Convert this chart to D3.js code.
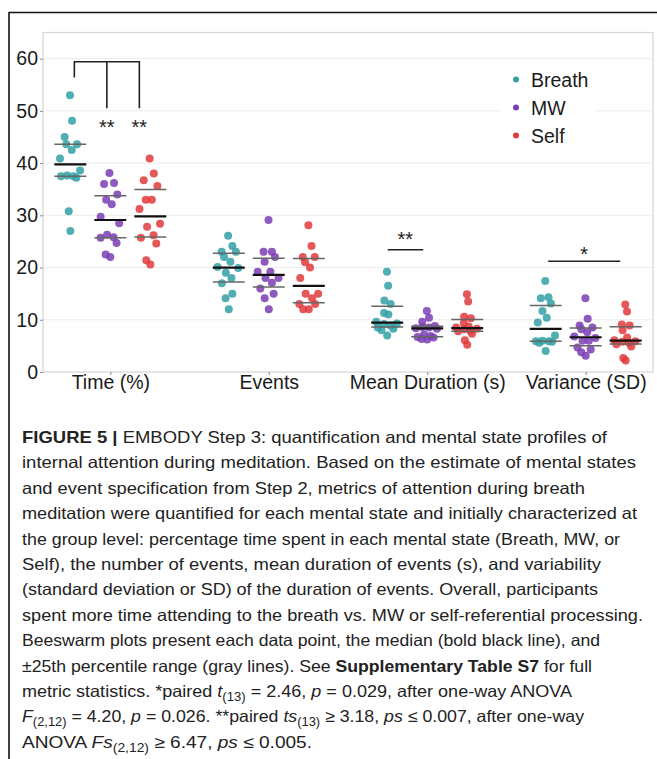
<!DOCTYPE html>
<html><head><meta charset="utf-8">
<script src="https://cdn.jsdelivr.net/npm/d3@7"></script>
<style>body{margin:0;background:#fff}</style>
</head><body>
<svg id="c" width="657" height="759"></svg>
<script>
// ---------- data ----------
const metrics = ["Time (%)", "Events", "Mean Duration (s)", "Variance (SD)"];
const states = ["Breath", "MW", "Self"];
const stateColors = ["#33a0a4", "#7a3db4", "#e03a3b"];
const yTicks = [0, 10, 20, 30, 40, 50, 60];

const timeBreath = [53.0, 48.1, 45.0, 43.6, 43.6, 42.5, 40.9, 38.6, 37.6, 37.5, 37.5, 37.2, 30.8, 27.0];
const timeMW     = [38.1, 36.2, 36.0, 34.0, 33.0, 32.1, 29.7, 28.5, 26.3, 25.8, 25.7, 24.7, 22.5, 22.0];
const timeSelf   = [40.9, 38.0, 36.7, 35.6, 33.0, 33.0, 31.2, 28.4, 27.8, 26.2, 25.7, 24.6, 21.4, 20.6];
const eventsBreath = [26.1, 24.1, 23.0, 23.0, 22.0, 21.1, 20.1, 19.9, 19.0, 18.0, 17.0, 15.0, 14.1, 12.0];
const eventsMW     = [29.1, 23.0, 23.0, 22.0, 21.1, 19.2, 19.2, 18.0, 18.0, 17.1, 16.0, 15.0, 14.1, 12.0];
const eventsSelf   = [28.1, 24.1, 22.0, 22.0, 21.0, 20.0, 18.0, 15.0, 15.0, 14.1, 13.0, 13.0, 12.0, 12.0];
const durationBreath = [19.2, 16.5, 13.7, 13.0, 11.3, 11.0, 9.6, 9.3, 9.2, 8.9, 8.5, 8.3, 8.0, 7.0];
const durationMW     = [11.7, 10.4, 9.6, 8.8, 8.6, 8.5, 8.4, 8.3, 7.2, 6.9, 6.7, 6.6, 6.3, 6.2];
const durationSelf   = [14.9, 13.5, 10.6, 10.3, 9.4, 8.7, 8.5, 8.3, 8.2, 7.9, 7.8, 7.3, 6.1, 5.2];
const varianceBreath = [17.4, 14.3, 14.1, 13.1, 11.7, 10.4, 9.5, 7.0, 6.0, 5.9, 5.9, 5.8, 5.6, 4.0];
const varianceMW     = [14.1, 10.2, 8.9, 8.5, 8.2, 7.6, 6.8, 6.5, 6.0, 6.0, 4.7, 4.3, 3.8, 3.1];
const varianceSelf   = [12.9, 11.6, 9.1, 8.9, 8.0, 6.6, 6.1, 5.9, 5.8, 5.6, 5.3, 4.9, 2.7, 2.2];

// significance annotations (y in data units)
const bracketTime = {top: 59.4, leftEnd: 56.4, rightEnd: 50.5};
const sigLabels = [
  {metric: 0, label: "**", at: "mw", y: 47.6},
  {metric: 0, label: "**", at: "self", y: 47.6},
  {metric: 2, label: "**", y: 26.3},
  {metric: 3, label: "*", y: 23.3}
];
const sigLines = [{metric: 2, y: 23.4}, {metric: 3, y: 21.2}];

const captionLines = [
  [["FIGURE 5 | ","b"],["EMBODY Step 3: quantification and mental state profiles of"]],
  [["internal attention during meditation. Based on the estimate of mental states"]],
  [["and event specification from Step 2, metrics of attention during breath"]],
  [["meditation were quantified for each mental state and initially characterized at"]],
  [["the group level: percentage time spent in each mental state (Breath, MW, or"]],
  [["Self), the number of events, mean duration of events (s), and variability"]],
  [["(standard deviation or SD) of the duration of events. Overall, participants"]],
  [["spent more time attending to the breath vs. MW or self-referential processing."]],
  [["Beeswarm plots present each data point, the median (bold black line), and"]],
  [["\u00B125th percentile range (gray lines). See "],["Supplementary Table S7","b"],[" for full"]],
  [["metric statistics. *paired "],["t","i"],["(13)","s"],[" = 2.46, "],["p","i"],[" = 0.029, after one-way ANOVA"]],
  [["F","i"],["(2,12)","s"],[" = 4.20, "],["p","i"],[" = 0.026. **paired "],["ts","i"],["(13)","s"],[" \u2265 3.18, "],["ps","i"],[" \u2264 0.007, after one-way"]],
  [["ANOVA "],["Fs","i"],["(2,12)","s"],[" \u2265 6.47, "],["ps","i"],[" \u2264 0.005."]]
];
const captionWidths = [585, 614, 563, 615, 598, 579, 576, 621, 578, 570, 550, 562, 290];

// ---------- layout ----------
const svg = d3.select("#c");
const font = "'Liberation Sans', Arial, Helvetica, sans-serif";
const panel = {l: 43, r: 653, t: 32.5, b: 372};

const groups = [
  [timeBreath, timeMW, timeSelf],
  [eventsBreath, eventsMW, eventsSelf],
  [durationBreath, durationMW, durationSelf],
  [varianceBreath, varianceMW, varianceSelf]
];

const x = d3.scalePoint().domain(metrics).range([panel.l, panel.r]).padding(0.425);
const y = d3.scaleLinear().domain([0, 65]).range([panel.b, panel.t]);
const sub = d3.scalePoint().domain(states).range([-40, 40]);

// figure frame
svg.append("line").attr("x1", 9).attr("x2", 657).attr("y1", 12.5).attr("y2", 12.5)
  .attr("stroke", "#111").attr("stroke-width", 1.6);
svg.append("line").attr("x1", 9).attr("x2", 9).attr("y1", 12).attr("y2", 759)
  .attr("stroke", "#111").attr("stroke-width", 1.6);

// grid
svg.append("g").selectAll("line").data(yTicks.filter(d => d > 0)).join("line")
  .attr("x1", panel.l).attr("x2", panel.r)
  .attr("y1", d => y(d)).attr("y2", d => y(d))
  .attr("stroke", "#ececec").attr("stroke-width", 1);

// panel border
svg.append("rect").attr("x", panel.l).attr("y", panel.t)
  .attr("width", panel.r - panel.l).attr("height", panel.b - panel.t)
  .attr("fill", "none").attr("stroke", "#d4d4d4").attr("stroke-width", 1.2);

// axes
const ya = svg.append("g").attr("transform", `translate(${panel.l},0)`)
  .call(d3.axisLeft(y).tickValues(yTicks).tickSize(3).tickPadding(2));
ya.select(".domain").remove();
ya.selectAll("line").attr("stroke", "#888");
ya.selectAll("text").attr("font-family", font).attr("font-size", 19.5).attr("fill", "#1a1a1a");

const xa = svg.append("g").attr("transform", `translate(0,${panel.b})`)
  .call(d3.axisBottom(x).tickSize(3).tickPadding(0.5));
xa.select(".domain").remove();
xa.selectAll("line").attr("stroke", "#888");
xa.selectAll("text").attr("font-family", font).attr("font-size", 19.5).attr("fill", "#1a1a1a");

// quasirandom (van der Corput + density) layout, like ggbeeswarm::geom_quasirandom
function vdc(n) {
  let v = 0, denom = 1;
  while (n > 0) { denom *= 2; v += (n % 2) / denom; n = Math.floor(n / 2); }
  return v;
}
function quasi(values, cx, halfWidth) {
  const n = values.length;
  const sorted = values.slice().sort(d3.ascending);
  const sd = d3.deviation(values);
  const iqr = d3.quantile(sorted, 0.75) - d3.quantile(sorted, 0.25);
  const bw = 0.9 * Math.min(sd, iqr / 1.34 || sd) * Math.pow(n, -0.2);
  const dens = v => d3.sum(values, w => Math.exp(-0.5 * ((v - w) / bw) ** 2));
  const dv = values.map(dens);
  const maxD = d3.max(dv);
  const order = values.map((v, i) => i).sort((a, b) => values[a] - values[b]);
  const out = new Array(n);
  order.forEach((idx, rank) => {
    const off = (vdc(rank + 1) - 0.5) * 2 * halfWidth * (dv[idx] / maxD);
    out[idx] = {x: cx + off, y: y(values[idx])};
  });
  return out;
}

const gPts = svg.append("g");
const gLines = svg.append("g");
groups.forEach((sets, mi) => {
  sets.forEach((vals, si) => {
    const cx = x(metrics[mi]) + sub(states[si]);
    const pts = quasi(vals, cx, 13);
    gPts.selectAll(null).data(pts).join("circle")
      .attr("cx", p => p.x).attr("cy", p => p.y).attr("r", 4)
      .attr("fill", stateColors[si]).attr("fill-opacity", 0.85);
    const sorted = vals.slice().sort(d3.ascending);
    const q = [0.25, 0.75].map(p => d3.quantile(sorted, p));
    const med = d3.quantile(sorted, 0.5);
    gLines.selectAll(null).data(q).join("line")
      .attr("x1", cx - 16).attr("x2", cx + 16)
      .attr("y1", d => y(d)).attr("y2", d => y(d))
      .attr("stroke", "#666").attr("stroke-width", 1.5);
    gLines.append("line").attr("x1", cx - 16).attr("x2", cx + 16)
      .attr("y1", y(med)).attr("y2", y(med))
      .attr("stroke", "#111").attr("stroke-width", 2.2);
  });
});

// significance marks
const ann = svg.append("g").attr("stroke", "#222").attr("stroke-width", 1.6).attr("fill", "none");
const tx = x(metrics[0]);
const bx = [tx - 36, tx - 3.5, tx + 29];
ann.append("path").attr("d",
  `M${bx[0]},${y(bracketTime.leftEnd)}V${y(bracketTime.top)}H${bx[2]}V${y(bracketTime.rightEnd)}` +
  `M${bx[1]},${y(bracketTime.top)}V${y(bracketTime.rightEnd)}`);
sigLines.forEach(s => {
  const cx = x(metrics[s.metric]);
  const span = s.metric === 2 ? [-39.5, -4] : [-37.5, 34.5];
  ann.append("line").attr("x1", cx + span[0]).attr("x2", cx + span[1])
    .attr("y1", y(s.y)).attr("y2", y(s.y));
});
sigLabels.forEach(s => {
  const cx = x(metrics[s.metric]);
  let lx;
  if (s.metric === 0) lx = s.at === "mw" ? bx[1] : bx[2];
  else if (s.metric === 2) lx = cx - 22;
  else lx = cx - 1.5;
  svg.append("text").attr("x", lx).attr("y", y(s.y) + 11)
    .attr("text-anchor", "middle").attr("font-family", font).attr("font-size", 20)
    .attr("fill", "#222").text(s.label);
});

// legend
svg.append("rect").attr("x", 500).attr("y", 60).attr("width", 95).attr("height", 92).attr("fill", "#fff");
const lg = svg.append("g").selectAll("g").data(states).join("g")
  .attr("transform", (d, i) => `translate(516,${79.5 + i * 28})`);
lg.append("circle").attr("r", 3).attr("fill", (d, i) => stateColors[i]);
lg.append("text").attr("x", 15).attr("y", 7).attr("font-family", font).attr("font-size", 19.5)
  .attr("fill", "#1a1a1a").text(d => d);

// caption
const cap = svg.append("g").attr("font-family", font).attr("font-size", 16.5).attr("fill", "#222");
captionLines.forEach((segs, i) => {
  const t = cap.append("text").attr("x", 22).attr("y", 443 + i * 25.4)
    .attr("textLength", captionWidths[i]).attr("lengthAdjust", "spacingAndGlyphs");
  let shifted = false;
  segs.forEach(([s, st]) => {
    const ts = t.append("tspan").text(s);
    if (st === "b") ts.attr("font-weight", "bold");
    if (st === "i") ts.attr("font-style", "italic");
    if (st === "s") { ts.attr("font-size", 12).attr("dy", 4); shifted = true; }
    else if (shifted) { ts.attr("dy", -4); shifted = false; }
  });
});
</script>
</body></html>
